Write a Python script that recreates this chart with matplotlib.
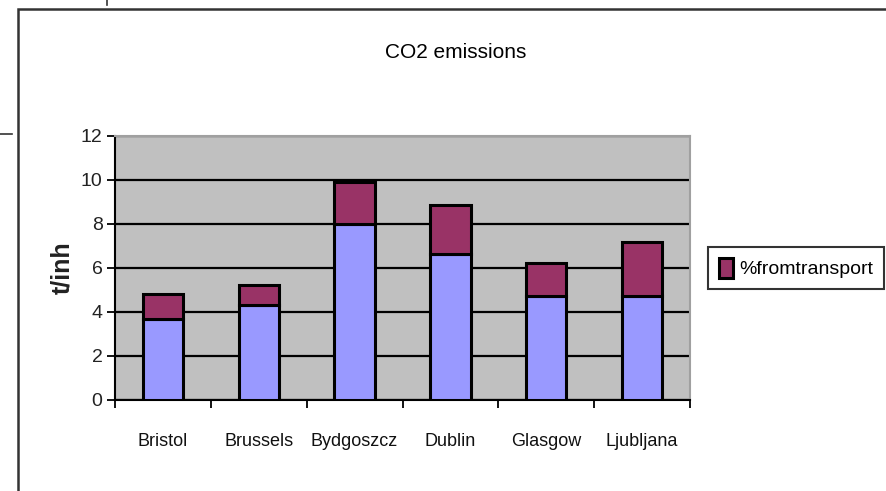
import matplotlib.pyplot as plt
import numpy as np
from matplotlib.lines import Line2D
from matplotlib.patches import Rectangle

cities = ['Bristol', 'Brussels', 'Bydgoszcz', 'Dublin', 'Glasgow', 'Ljubljana']
base = [3.7, 4.3, 8.0, 6.65, 4.75, 4.75]
transport = [1.1, 0.95, 1.9, 2.2, 1.5, 2.45]
yticks = [0, 2, 4, 6, 8, 10, 12]

plt.rcParams['font.family'] = ['Liberation Sans Narrow', 'Liberation Sans', 'DejaVu Sans']

fig = plt.figure(figsize=(8.86, 4.91), dpi=100)
W, H = 886, 491

# outer chart frame (runs off the right and bottom of the picture)
fig.patches.append(Rectangle((18 / W, -0.1), 1.0, 1 - 9 / H + 0.1, transform=fig.transFigure,
                             fill=False, edgecolor='#333333', linewidth=1.8))
# bits of the surrounding page
fig.lines.append(Line2D([0, 12 / W], [1 - 134 / H, 1 - 134 / H], transform=fig.transFigure,
                        color='#333333', linewidth=1.2))
fig.lines.append(Line2D([107 / W, 107 / W], [1, 1 - 5 / H], transform=fig.transFigure,
                        color='#333333', linewidth=1.2))

ax = fig.add_axes([115 / W, 91 / H, 575 / W, 264 / H])
ax.set_facecolor('#C0C0C0')

x = np.arange(len(cities))
ax.bar(x, base, width=0.42, color='#9999FF', edgecolor='black', linewidth=2.2, zorder=3)
ax.bar(x, transport, bottom=base, width=0.42, color='#993366', edgecolor='black',
       linewidth=2.2, zorder=3, label='%fromtransport')

ax.set_xlim(-0.5, len(cities) - 0.5)
ax.set_ylim(0, 12)
ax.set_yticks(yticks)
ax.set_yticklabels([str(v) for v in yticks], fontsize=14, color='#222222')
ax.yaxis.grid(True, color='black', linewidth=1.6, zorder=1)
ax.set_axisbelow(True)

ax.set_xticks(x)
ax.set_xticklabels(cities, fontsize=13, color='#111111')
ax.tick_params(axis='x', which='major', length=0, pad=24)
ax.set_xticks(np.arange(-0.5, len(cities)), minor=True)
ax.tick_params(axis='x', which='minor', length=6, width=1.3, direction='out')
ax.tick_params(axis='y', length=6, width=1.3, direction='out', pad=3)

for s in ['top', 'right']:
    ax.spines[s].set_color('#A0A0A0')
    ax.spines[s].set_linewidth(1.5)
ax.spines['left'].set_linewidth(1.5)
ax.spines['bottom'].set_linewidth(1.5)

ax.set_ylabel('t/inh', fontsize=18, fontweight='bold', labelpad=5, color='#222222')
fig.text(456 / W, 1 - 52 / H, 'CO2 emissions', ha='center', va='center', fontsize=15)

leg = ax.legend(loc='center left', bbox_to_anchor=(708 / W, 1 - 268 / H), bbox_transform=fig.transFigure,
                frameon=True, fancybox=False, edgecolor='black', fontsize=14,
                handlelength=0.75, handleheight=1.2, handletextpad=0.3, borderpad=0.55,
                borderaxespad=0)
leg.get_frame().set_linewidth(1.5)

fig.savefig('out.png', dpi=100)
